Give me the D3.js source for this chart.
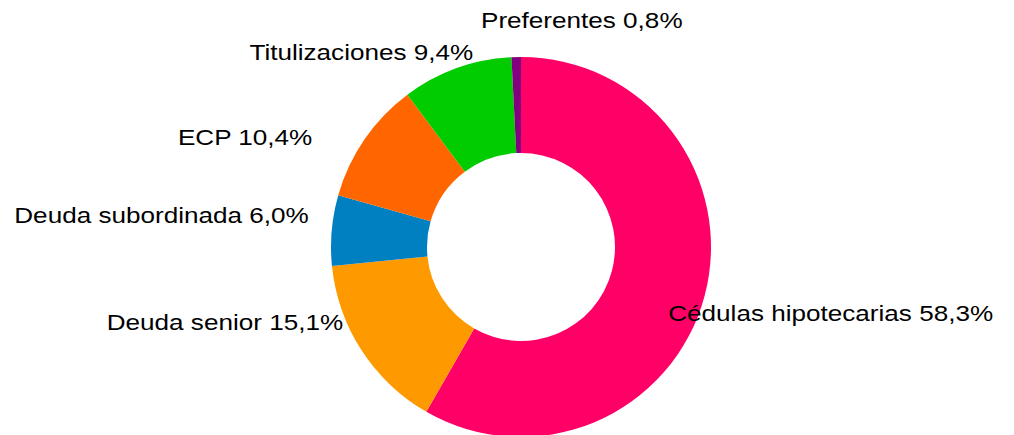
<!DOCTYPE html>
<html>
<head>
<meta charset="utf-8">
<script src="https://cdn.jsdelivr.net/npm/d3@7"></script>
<style>
  body { margin: 0; background: #fff; }
  svg { display: block; }
</style>
</head>
<body>
<svg width="1014" height="435"></svg>
<script>
const width = 1014;
const height = 435;

// data (share of total, %)
const categories = ["Cédulas hipotecarias", "Deuda senior", "Deuda subordinada", "ECP", "Titulizaciones", "Preferentes"];
const shares = [58.3, 15.1, 6.0, 10.4, 9.4, 0.8];
const valueLabels = ["58,3%", "15,1%", "6,0%", "10,4%", "9,4%", "0,8%"];
const colors = ["#FF0066", "#FF9900", "#0080C0", "#FF6600", "#00CC00", "#800080"];

// label nudges from the outer label point (dx, dy, anchor)
const labelNudge = [
    [-46, 15, "start"],
    [-10, -34, "end"],
    [-13, -14, "end"],
    [-44, 4, "end"],
    [20, -7, "end"],
    [-35, -27, "start"]
];

const cx = 521;
const cy = 247;
const outerR = 190;
const innerR = 94;

const svg = d3.select("svg");
const g = svg.append("g").attr("transform", "translate(" + cx + "," + cy + ")");

const pie = d3.pie().sort(null).value(d => d);
const arcs = pie(shares);

const arc = d3.arc().innerRadius(innerR).outerRadius(outerR);

//draw slices
g.selectAll("path.slice")
    .data(arcs)
    .enter()
    .append("path")
    .attr("class", "slice")
    .attr("d", arc)
    .attr("fill", (d, i) => colors[i]);

//labels
arcs.forEach((d, i) => {
    const mid = (d.startAngle + d.endAngle) / 2;
    const x = 200 * Math.sin(mid) + labelNudge[i][0];
    const y = -200 * Math.cos(mid) + labelNudge[i][1];
    const anchor = labelNudge[i][2];
    g.append("text")
        .attr("transform", "translate(" + x + "," + y + ") scale(1.16,1)")
        .attr("text-anchor", anchor)
        .attr("dominant-baseline", "central")
        .attr("font-family", "Liberation Sans, Arial, sans-serif")
        .attr("font-size", 22.5)
        .attr("fill", "#000")
        .text(categories[i] + " " + valueLabels[i]);
});
</script>
</body>
</html>
